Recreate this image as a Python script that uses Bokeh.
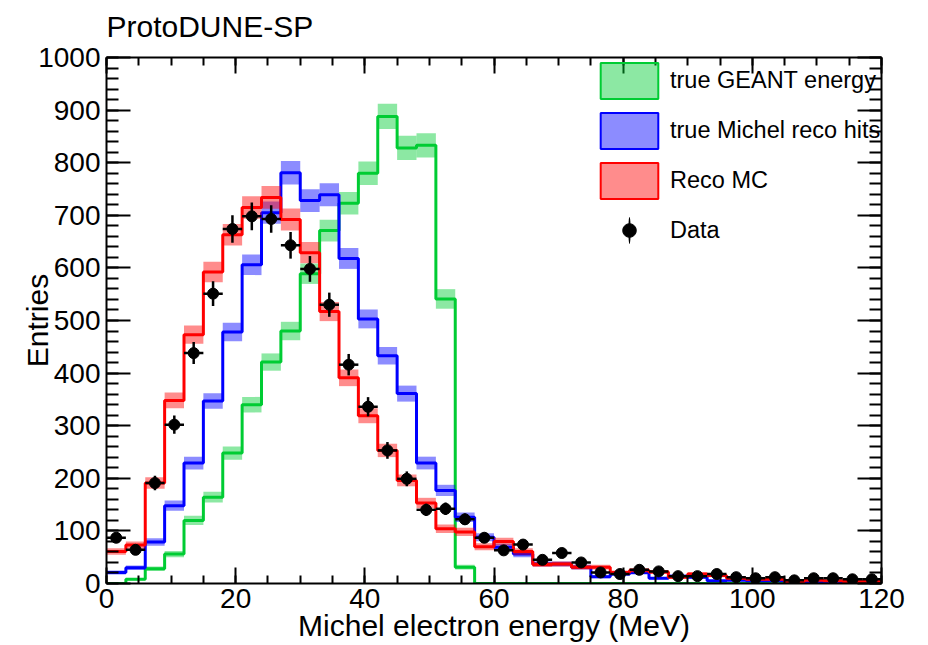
import numpy as np
from bokeh.plotting import figure
from bokeh.models import (Range1d, LinearAxis, SingleIntervalTicker, Legend,
                          LegendItem, ColumnDataSource, CustomLabelingPolicy)
from bokeh.embed import file_html
from bokeh.resources import INLINE

# ---------------- data (3 MeV bins, 0-120 MeV) ----------------
bin_edges = list(range(0, 123, 3))

geant_true = [0, 8, 28, 56, 120, 164, 248, 340, 421, 480,
              589, 671, 723, 780, 888, 828, 833, 541, 31, 0,
              0, 0, 0, 0, 0, 0, 0, 0, 0, 0,
              0, 0, 0, 0, 0, 0, 0, 0, 0, 0]

michel_hits = [21, 30, 79, 148, 229, 347, 478, 606, 705, 781,
               728, 739, 618, 503, 433, 361, 229, 177, 126, 88,
               69, 56, 37, 37, 31, 13, 18, 21, 10, 14,
               12, 5, 6, 5, 5, 4, 4, 3, 3, 3]

reco_mc = [61, 73, 191, 348, 473, 592, 663, 715, 734, 692,
           629, 517, 391, 319, 253, 196, 153, 104, 98, 70,
           80, 61, 36, 37, 31, 31, 21, 25, 22, 12,
           18, 15, 10, 8, 8, 3, 6, 5, 4, 4]

data_vals = [87, 64, 191, 302, 438, 551, 674, 698, 693, 643,
             598, 530, 416, 336, 253, 199, 140, 142, 122, 87,
             63, 74, 45, 58, 40, 21, 18, 26, 23, 14,
             14, 18, 12, 10, 12, 6, 10, 10, 8, 8]

data_errs = [9.3, 8.0, 13.8, 17.4, 20.9, 23.5, 26.0, 26.4, 26.3, 25.4,
             24.5, 23.0, 20.4, 18.3, 15.9, 14.1, 11.8, 11.9, 11.0, 9.3,
             7.9, 8.6, 6.7, 7.6, 6.3, 4.6, 4.2, 5.1, 4.8, 3.7,
             3.7, 4.2, 3.5, 3.2, 3.5, 2.4, 3.2, 3.2, 2.8, 2.8]

series_names = ["true GEANT energy", "true Michel reco hits", "Reco MC"]
series_vals = [geant_true, michel_hits, reco_mc]
series_colors = ["#00cc33", "#0000ff", "#ff0000"]
data_name = "Data"
mc_band_scale = 0.8   # relative size of the MC uncertainty band

x_ticks_major = 20
y_ticks_major = 100

FONT = "Liberation Sans"

# ---------------- figure ----------------
p = figure(width=920, height=645, output_backend="svg", toolbar_location=None,
           x_range=Range1d(0, 120), y_range=Range1d(0, 1000),
           min_border_left=106, min_border_right=39, min_border_top=57,
           min_border_bottom=62, title="ProtoDUNE-SP")
p.grid.visible = False
p.outline_line_color = None
p.background_fill_color = "white"
p.border_fill_color = "white"

p.title.text_font = FONT
p.title.text_font_size = "30px"
p.title.text_font_style = "normal"
p.title.text_color = "black"
p.title.align = "left"
p.title.vertical_align = "top"
p.title.standoff = 18

hide_all = CustomLabelingPolicy(
    code="for (const i of Array.from(indices)) { indices.unset(i) }\nreturn indices")


def style_axis(ax, major_len, minor_len, labels=True):
    ax.axis_line_color = "black"
    ax.axis_line_width = 2
    ax.major_tick_line_color = "black"
    ax.minor_tick_line_color = "black"
    ax.major_tick_line_width = 2
    ax.minor_tick_line_width = 2
    ax.major_tick_in = major_len
    ax.major_tick_out = 0
    ax.minor_tick_in = minor_len
    ax.minor_tick_out = 0
    ax.major_label_text_font = FONT
    ax.major_label_text_color = "black"
    ax.axis_label_text_font = FONT
    ax.axis_label_text_font_style = "normal"
    ax.axis_label_text_color = "black"
    if labels:
        ax.major_label_text_font_size = "28px"
        ax.axis_label_text_font_size = "30px"
    else:
        ax.major_label_text_font_size = "2px"
        ax.major_label_standoff = 0
        ax.major_label_policy = hide_all


xa = p.xaxis[0]
xa.ticker = SingleIntervalTicker(interval=x_ticks_major, num_minor_ticks=4)
style_axis(xa, 16, 8)
xa.axis_label = "Michel electron energy (MeV)"
xa.major_label_standoff = 5
xa.axis_label_standoff = -2

ya = p.yaxis[0]
ya.ticker = SingleIntervalTicker(interval=y_ticks_major, num_minor_ticks=5)
style_axis(ya, 24, 12)
ya.axis_label = "Entries"
ya.major_label_standoff = 6
ya.axis_label_standoff = -19

top_ax = LinearAxis(ticker=SingleIntervalTicker(interval=x_ticks_major, num_minor_ticks=4))
style_axis(top_ax, 16, 8, labels=False)
p.add_layout(top_ax, "above")

right_ax = LinearAxis(ticker=SingleIntervalTicker(interval=y_ticks_major, num_minor_ticks=5))
style_axis(right_ax, 24, 12, labels=False)
p.add_layout(right_ax, "right")

# ---------------- histograms ----------------
edges = np.array(bin_edges, dtype=float)
lefts = edges[:-1]
rights = edges[1:]
centers = 0.5 * (lefts + rights)

mc_items = []
for name, vals, col in zip(series_names, series_vals, series_colors):
    v = np.array(vals, dtype=float)
    err = mc_band_scale * np.sqrt(v)
    src = ColumnDataSource(dict(left=lefts, right=rights,
                                bottom=v - err, top=v + err))
    p.quad(left="left", right="right", bottom="bottom", top="top", source=src,
           fill_color=col, fill_alpha=0.45, line_color=None)
    p.step(x=edges, y=np.append(v, v[-1]), mode="after",
           line_color=col, line_width=3)
    # legend-only glyph (nothing drawn inside the frame)
    dummy = p.quad(left=[np.nan], right=[np.nan], bottom=[np.nan], top=[np.nan],
                   fill_color=col, fill_alpha=0.45, line_color=col, line_width=2)
    mc_items.append(LegendItem(label=name, renderers=[dummy]))

# ---------------- data points ----------------
d = np.array(data_vals, dtype=float)
de = np.array(data_errs, dtype=float)
p.segment(x0=centers, y0=d - de, x1=centers, y1=d + de,
          line_color="black", line_width=2.5)
p.segment(x0=lefts, y0=d, x1=rights, y1=d, line_color="black", line_width=2.5)
p.scatter(x=centers, y=d, size=11, marker="circle",
          fill_color="black", line_color="black")

# legend-only glyphs for the data entry: a thin tall ellipse acts as the
# vertical error bar, plus the round marker
dummy_bar = p.ellipse(x=[np.nan], y=[np.nan], width=2.5, height=30,
                      width_units="screen", height_units="screen",
                      fill_color="black", line_color=None)
dummy_dot = p.scatter(x=[np.nan], y=[np.nan], marker="circle",
                      fill_color="black", line_color="black")

legend_mc = Legend(items=mc_items, location=(487, 380),
                   glyph_width=72, glyph_height=45, label_height=45,
                   spacing=5, padding=0, margin=0, label_standoff=5,
                   label_text_font=FONT, label_text_font_size="23.5px",
                   label_text_color="black",
                   border_line_color=None, background_fill_alpha=0)
p.add_layout(legend_mc, "center")

legend_data = Legend(items=[LegendItem(label=data_name,
                                       renderers=[dummy_bar, dummy_dot])],
                     location=(487, 336),
                     glyph_width=72, glyph_height=34, label_height=34,
                     spacing=0, padding=0, margin=0, label_standoff=5,
                     label_text_font=FONT, label_text_font_size="23.5px",
                     label_text_color="black",
                     border_line_color=None, background_fill_alpha=0)
p.add_layout(legend_data, "center")

open("out.html", "w").write(file_html(p, INLINE))
